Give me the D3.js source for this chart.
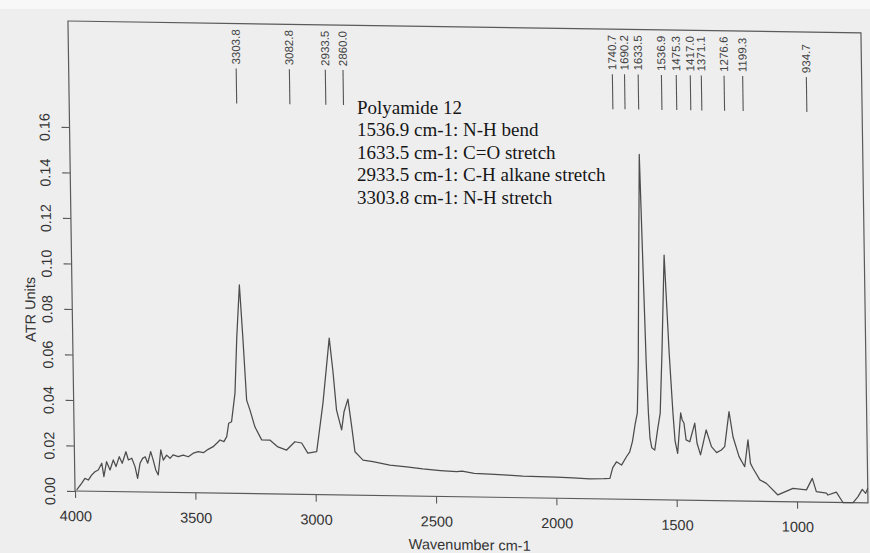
<!DOCTYPE html>
<html><head><meta charset="utf-8">
<script src="https://cdn.jsdelivr.net/npm/d3@7"></script>
<style>html,body{margin:0;padding:0;background:#eeeeef;} svg{display:block}</style>
</head><body>
<svg id="chart" width="870" height="553"></svg>
<script>
// ---- data ----
const wavenumbers = [3993,3972,3958,3944,3930,3916,3902,3887,3879,3867,3853,3839,3828,3814,3802,3786,3776,3762,3749,3739,3728,3717,3706,3696,3683,3673,3663,3653,3641,3631,3617,3603,3590,3569,3548,3527,3506,3485,3464,3444,3423,3408,3394,3378,3366,3357,3345,3329,3318,3304,3293,3281,3268,3248,3221,3187,3154,3118,3083,3055,3030,2993,2964,2934,2921,2908,2888,2877,2860,2846,2834,2801,2760,2690,2620,2553,2480,2413,2390,2340,2275,2200,2138,2070,1998,1930,1860,1800,1776,1764,1748,1727,1706,1692,1680,1668,1658,1651,1645,1634,1624,1618,1612,1607,1600,1588,1575,1563,1552,1537,1522,1510,1503,1493,1478,1472,1465,1457,1442,1420,1412,1398,1373,1352,1331,1311,1297,1277,1262,1238,1215,1200,1191,1181,1153,1126,1079,1016,960,935,919,877,871,836,809,767,746,728,714,705];
const absorbance = [0.0005,0.0034,0.0056,0.0049,0.0071,0.0086,0.0094,0.0124,0.0065,0.0131,0.0095,0.0139,0.0110,0.0154,0.0125,0.0176,0.0140,0.0148,0.0111,0.0060,0.0126,0.0148,0.0155,0.0127,0.0178,0.0141,0.0098,0.0076,0.0186,0.0142,0.0164,0.0150,0.0165,0.0158,0.0165,0.0158,0.0174,0.0181,0.0177,0.0192,0.0204,0.0219,0.0234,0.0227,0.0249,0.0308,0.0315,0.0441,0.0688,0.0917,0.0688,0.0411,0.0368,0.0293,0.0237,0.0237,0.0207,0.0194,0.0231,0.0226,0.0182,0.0189,0.0403,0.0689,0.0549,0.0373,0.0286,0.0366,0.0422,0.0301,0.0191,0.0155,0.0149,0.0135,0.0128,0.0120,0.0114,0.0110,0.0113,0.0104,0.0102,0.0098,0.0095,0.0094,0.0093,0.0090,0.0087,0.0089,0.0091,0.0137,0.0164,0.0150,0.0187,0.0209,0.0255,0.0330,0.0381,0.0600,0.0935,0.1517,0.0935,0.0600,0.0381,0.0270,0.0228,0.0218,0.0307,0.0381,0.0645,0.1076,0.0645,0.0381,0.0260,0.0205,0.0383,0.0352,0.0339,0.0265,0.0257,0.0339,0.0252,0.0200,0.0310,0.0237,0.0211,0.0223,0.0238,0.0392,0.0282,0.0195,0.0151,0.0269,0.0166,0.0145,0.0094,0.0079,0.0029,0.0059,0.0053,0.0104,0.0046,0.0040,0.0032,0.0045,0.0000,0.0000,0.0027,0.0059,0.0042,0.0064];
const peakLabels = ["3303.8","3082.8","2933.5","2860.0","1740.7","1690.2","1633.5","1536.9","1475.3","1417.0","1371.1","1276.6","1199.3","934.7"];
const xTicks = [4000,3500,3000,2500,2000,1500,1000];
const yTicks = [0.00,0.02,0.04,0.06,0.08,0.10,0.12,0.14,0.16];
const annotationLines = ["Polyamide 12","1536.9 cm-1: N-H bend","1633.5 cm-1: C=O stretch","2933.5 cm-1: C-H alkane stretch","3303.8 cm-1: N-H stretch"];
const xTitle = "Wavenumber cm-1";
const yTitle = "ATR Units";

// ---- drawing ----
const W = 870, H = 553;
const L = 75, R = 868, T = 21, B = 491;
const svg = d3.select("#chart");
svg.append("rect").attr("width", W).attr("height", H).attr("fill", "#eeeeef");
svg.append("rect").attr("width", W).attr("height", 9).attr("fill", "#f8f8f8");

// scanned page is slightly skewed
const g = svg.append("g").attr("transform", "matrix(1,0.015,0.015,1,-7.365,-1.125)");

const x = d3.scaleLinear().domain([4000, 705]).range([L, R]);
const y = d3.scaleLinear().domain([0, 0.2066]).range([B, T]);

const axisFont = "'Liberation Sans', Arial, sans-serif";

// frame
g.append("rect").attr("x", L).attr("y", T).attr("width", R - L).attr("height", B - T)
  .attr("fill", "none").attr("stroke", "#5a5a5a").attr("stroke-width", 1.2);

// y axis
const ya = g.append("g").attr("transform", `translate(${L},0)`)
  .call(d3.axisLeft(y).tickValues(yTicks).tickFormat(d3.format(".2f")).tickSize(8));
ya.select(".domain").remove();
ya.selectAll(".tick line").attr("stroke", "#5a5a5a").attr("stroke-width", 1.1);
ya.selectAll(".tick text")
  .attr("x", null).attr("dy", null).attr("y", null)
  .attr("text-anchor", "middle")
  .attr("transform", "translate(-20,0) rotate(-90)")
  .attr("fill", "#333").style("font-family", axisFont).style("font-size", "14.5px");

// x axis
const xa = g.append("g").attr("transform", `translate(0,${B})`)
  .call(d3.axisBottom(x).tickValues(xTicks).tickFormat(d3.format("d")).tickSize(7));
xa.select(".domain").remove();
xa.selectAll(".tick line").attr("stroke", "#5a5a5a").attr("stroke-width", 1.1);
xa.selectAll(".tick text").attr("y", 30).attr("dy", null)
  .attr("fill", "#333").style("font-family", axisFont).style("font-size", "14.5px");

// titles
g.append("text").attr("x", 469).attr("y", 544).attr("text-anchor", "middle")
  .attr("fill", "#333").style("font-family", axisFont).style("font-size", "14.5px").text(xTitle);
g.append("text").attr("transform", "translate(38,310) rotate(-90)").attr("text-anchor", "middle")
  .attr("fill", "#333").style("font-family", axisFont).style("font-size", "14.5px").text(yTitle);

// spectrum
const pts = wavenumbers.map((w, i) => [w, absorbance[i]]);
g.append("path").datum(pts)
  .attr("d", d3.line().x(d => x(d[0])).y(d => y(d[1])).curve(d3.curveLinear))
  .attr("fill", "none").attr("stroke", "#4c4c4c").attr("stroke-width", 1.25)
  .attr("stroke-linejoin", "round");

// peak markers
const pk = g.append("g").selectAll("g").data(peakLabels).join("g");
pk.append("line")
  .attr("x1", d => x(+d)).attr("x2", d => x(+d))
  .attr("y1", 66).attr("y2", 101)
  .attr("stroke", "#555").attr("stroke-width", 1.1);
pk.append("text")
  .attr("transform", d => `translate(${x(+d) + 4},62) rotate(-90)`)
  .attr("text-anchor", "start")
  .attr("fill", "#444").style("font-family", axisFont).style("font-size", "11.5px")
  .text(d => d);

// annotation (pasted text block, not skewed)
svg.append("g").selectAll("text").data(annotationLines).join("text")
  .attr("x", 357).attr("y", (d, i) => 114 + i * 22.4)
  .attr("fill", "#161616")
  .style("font-family", "'Liberation Serif', 'Times New Roman', serif")
  .style("font-size", "19px")
  .text(d => d);
</script>
</body></html>
